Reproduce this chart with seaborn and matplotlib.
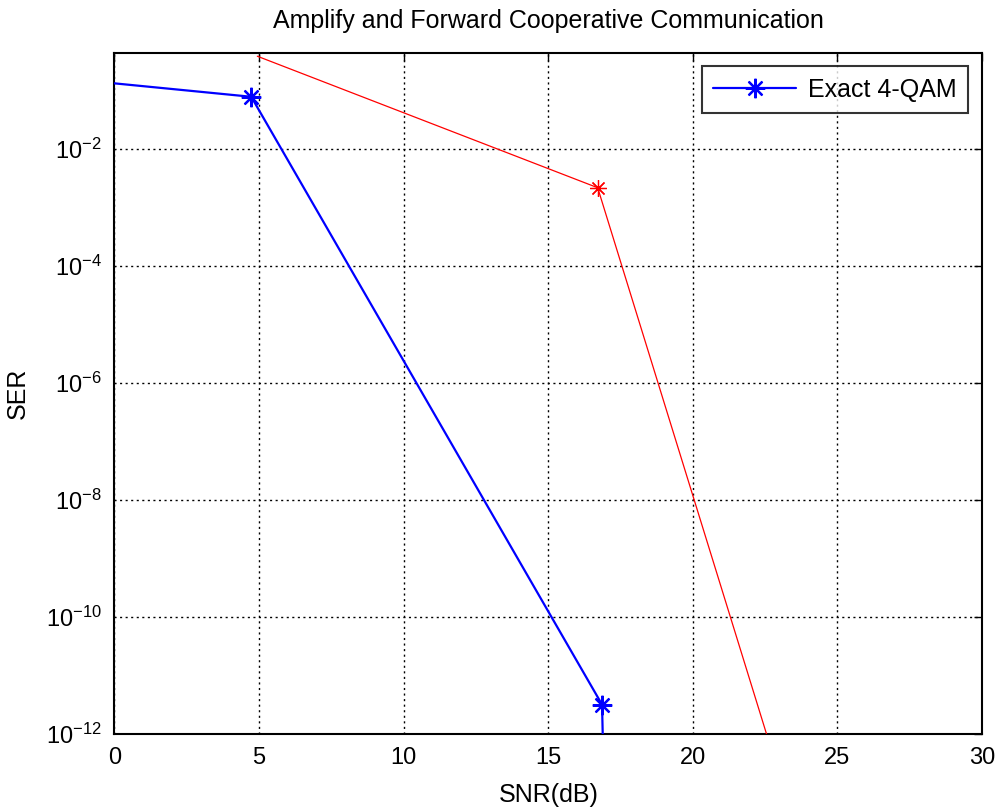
import matplotlib
matplotlib.use("Agg")
import matplotlib.pyplot as plt
import matplotlib.ticker as mticker
import numpy as np
import pandas as pd
import seaborn as sns

# SER vs SNR curves
blue_snr = [0.0, 4.73, 16.86, 16.93]
blue_ser = [0.134, 0.079, 3.2e-12, 1e-13]
red_snr = [4.94, 16.71, 22.55]
red_ser = [0.39, 2.2e-3, 1e-12]

x_ticks = [0, 5, 10, 15, 20, 25, 30]
y_ticks = [1e-12, 1e-10, 1e-8, 1e-6, 1e-4, 1e-2]

sns.set_style("white")
plt.rcParams["font.family"] = ["Liberation Sans", "DejaVu Sans"]
plt.rcParams["mathtext.fontset"] = "custom"
plt.rcParams["mathtext.rm"] = "Liberation Sans"
plt.rcParams["axes.unicode_minus"] = False
plt.rcParams["text.color"] = "black"
plt.rcParams["axes.labelcolor"] = "black"
plt.rcParams["xtick.color"] = "black"
plt.rcParams["ytick.color"] = "black"

fig = plt.figure(figsize=(9.98, 8.09), dpi=100)
ax = fig.add_axes([0.1147, 0.0925, 0.984 - 0.1147, 0.935 - 0.0925])

blue_df = pd.DataFrame({"SNR": blue_snr, "SER": blue_ser})
red_df = pd.DataFrame({"SNR": red_snr, "SER": red_ser})

asterisk = (8, 2, 0)
sns.lineplot(data=blue_df, x="SNR", y="SER", ax=ax, color="#0000ff", lw=1.6,
             marker=asterisk, markersize=14, markeredgewidth=1.6,
             markeredgecolor="#0000ff", markerfacecolor="#0000ff",
             markevery=[1, 2], estimator=None, sort=False,
             label="Exact 4-QAM", zorder=3)
sns.lineplot(data=red_df, x="SNR", y="SER", ax=ax, color="#ff0000", lw=0.9,
             marker=asterisk, markersize=12, markeredgewidth=0.9,
             markeredgecolor="#ff0000", markerfacecolor="#ff0000",
             markevery=[1], estimator=None, sort=False, zorder=3)

ax.set_yscale("log")
ax.set_xlim(0, 30)
ax.set_ylim(1e-12, 0.45)
ax.set_xticks(x_ticks)
ax.set_yticks(y_ticks)
ax.yaxis.set_minor_locator(mticker.NullLocator())
ax.yaxis.set_major_formatter(mticker.LogFormatterSciNotation())

ax.grid(True, which="major", color="black", linestyle=(0, (1.5, 2.5)), lw=1.0)
ax.tick_params(direction="in", length=6, width=1, top=True, right=True,
               labelsize=17, pad=9, colors="black")
for s in ax.spines.values():
    s.set_visible(True)
    s.set_color("black")
    s.set_linewidth(1.5)

ax.set_xlabel("SNR(dB)", fontsize=18, labelpad=10, color="black")
ax.set_ylabel("SER", fontsize=18, labelpad=12, color="black")
ax.set_title("Amplify and Forward Cooperative Communication", fontsize=18,
             pad=18, color="black")

leg = ax.legend(loc="upper right", fontsize=18, frameon=True, fancybox=False,
                borderpad=0.45, handlelength=3.3, handletextpad=0.5,
                borderaxespad=0.55)
leg.get_frame().set_edgecolor("black")
leg.get_frame().set_linewidth(1.5)
for t in leg.get_texts():
    t.set_color("black")

fig.savefig("out.png", dpi=100, facecolor="white")
